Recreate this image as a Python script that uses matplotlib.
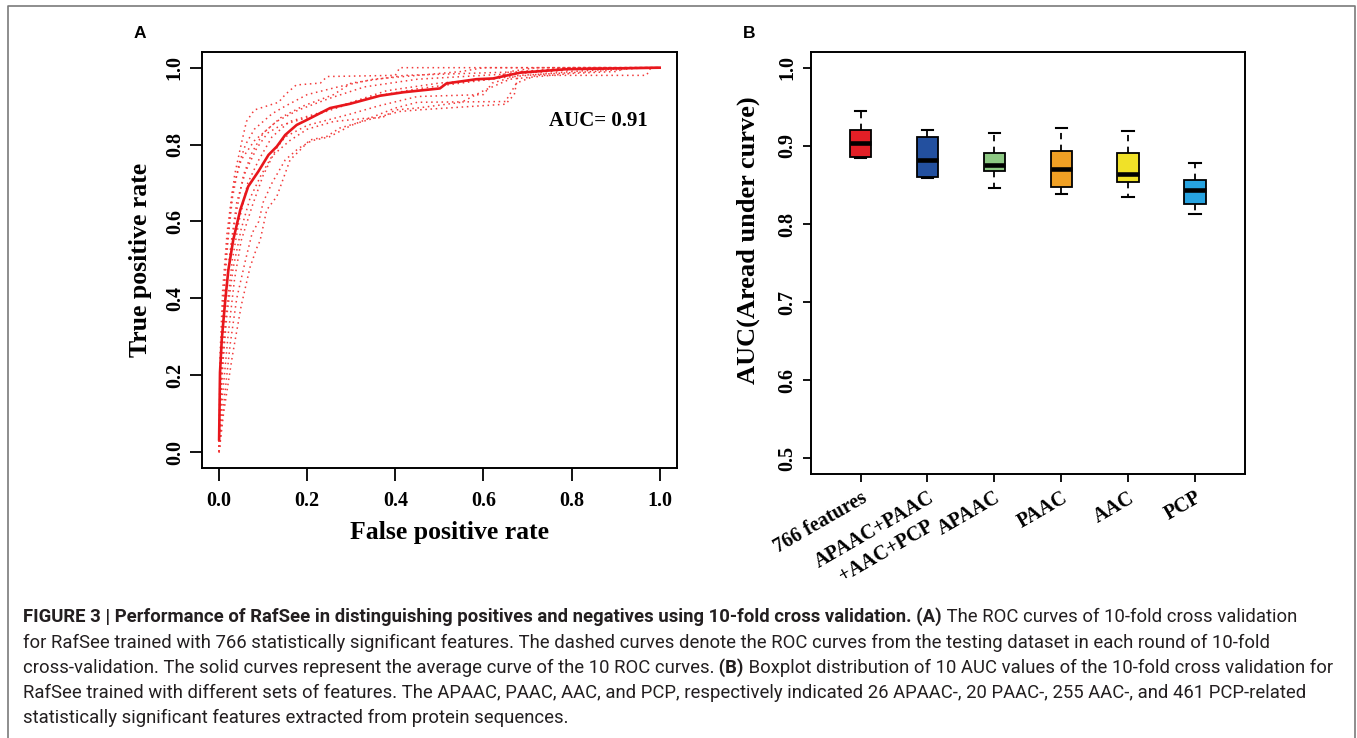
import matplotlib
matplotlib.use('Agg')
import matplotlib.pyplot as plt
from matplotlib.lines import Line2D
from matplotlib import font_manager

W, H = 1357, 738

# ---------------- data: panel A (ROC) ----------------
mean_fpr = [0.0, 0.002, 0.006, 0.014, 0.021, 0.032, 0.048, 0.066, 0.089, 0.112, 0.131,
            0.150, 0.176, 0.199, 0.252, 0.297, 0.365, 0.418, 0.501, 0.516, 0.584,
            0.622, 0.683, 0.788, 1.0]
mean_tpr = [0.033, 0.207, 0.293, 0.396, 0.474, 0.552, 0.630, 0.691, 0.730, 0.773, 0.795,
            0.825, 0.851, 0.864, 0.895, 0.906, 0.927, 0.936, 0.946, 0.959, 0.970,
            0.972, 0.987, 0.996, 1.0]

fold_fpr = [
    [0, 0.002, 0.008, 0.015, 0.025, 0.035, 0.05, 0.062, 0.08, 0.135, 0.15, 0.175, 0.23, 0.245, 0.40, 0.41, 1.0],
    [0, 0.003, 0.01, 0.02, 0.03, 0.045, 0.06, 0.08, 0.12, 0.15, 0.2, 0.27, 0.35, 0.55, 0.6, 1.0],
    [0, 0.004, 0.012, 0.025, 0.04, 0.055, 0.075, 0.1, 0.14, 0.19, 0.26, 0.3, 0.42, 0.7, 0.8, 1.0],
    [0, 0.002, 0.008, 0.018, 0.03, 0.05, 0.08, 0.13, 0.18, 0.25, 0.33, 0.45, 0.6, 0.75, 0.85, 1.0],
    [0, 0.006, 0.015, 0.03, 0.045, 0.065, 0.09, 0.12, 0.16, 0.22, 0.3, 0.38, 0.5, 0.62, 0.66, 0.72, 1.0],
    [0, 0.005, 0.014, 0.028, 0.04, 0.06, 0.085, 0.11, 0.14, 0.2, 0.28, 0.35, 0.45, 0.55, 0.65, 0.8, 0.95, 1.0],
    [0, 0.008, 0.02, 0.035, 0.05, 0.075, 0.1, 0.13, 0.15, 0.2, 0.3, 0.36, 0.45, 0.6, 0.62, 0.68, 0.85, 0.97, 1.0],
    [0, 0.01, 0.025, 0.04, 0.06, 0.075, 0.09, 0.1, 0.12, 0.15, 0.18, 0.21, 0.25, 0.3, 0.4, 0.45, 0.65, 0.675, 0.72, 0.97, 0.98, 1.0],
    [0, 0.006, 0.018, 0.032, 0.05, 0.07, 0.095, 0.12, 0.16, 0.2, 0.26, 0.33, 0.37, 0.4, 0.45, 0.55, 0.6, 0.66, 0.8, 0.9, 0.93, 1.0],
    [0, 0.01, 0.03, 0.05, 0.07, 0.085, 0.093, 0.108, 0.131, 0.161, 0.184, 0.206, 0.244, 0.274, 0.35, 0.41, 0.45, 0.65, 0.67, 0.68, 0.75, 0.8, 1.0],
]
fold_tpr = [
    [0, 0.15, 0.35, 0.5, 0.62, 0.72, 0.8, 0.86, 0.89, 0.91, 0.93, 0.955, 0.96, 0.977, 0.98, 1.0, 1.0],
    [0, 0.2, 0.4, 0.55, 0.66, 0.75, 0.8, 0.84, 0.88, 0.9, 0.93, 0.95, 0.97, 0.99, 1.0, 1.0],
    [0, 0.2, 0.38, 0.52, 0.63, 0.72, 0.78, 0.83, 0.87, 0.9, 0.93, 0.96, 0.98, 0.99, 1.0, 1.0],
    [0, 0.25, 0.42, 0.57, 0.68, 0.76, 0.81, 0.86, 0.89, 0.92, 0.95, 0.97, 0.98, 0.99, 1.0, 1.0],
    [0, 0.18, 0.35, 0.5, 0.6, 0.7, 0.76, 0.82, 0.86, 0.88, 0.91, 0.94, 0.96, 0.97, 0.99, 1.0, 1.0],
    [0, 0.22, 0.4, 0.55, 0.65, 0.73, 0.79, 0.83, 0.85, 0.87, 0.9, 0.925, 0.945, 0.96, 0.975, 0.99, 1.0, 1.0],
    [0, 0.15, 0.3, 0.45, 0.55, 0.64, 0.72, 0.79, 0.82, 0.85, 0.88, 0.9, 0.925, 0.93, 0.96, 0.98, 0.99, 1.0, 1.0],
    [0, 0.12, 0.28, 0.4, 0.5, 0.57, 0.6, 0.65, 0.7, 0.76, 0.79, 0.81, 0.82, 0.85, 0.895, 0.91, 0.912, 0.96, 0.98, 0.98, 1.0, 1.0],
    [0, 0.2, 0.36, 0.48, 0.58, 0.66, 0.72, 0.77, 0.81, 0.84, 0.86, 0.868, 0.87, 0.89, 0.895, 0.91, 0.94, 0.97, 0.985, 0.99, 1.0, 1.0],
    [0, 0.1, 0.25, 0.38, 0.48, 0.53, 0.55, 0.63, 0.665, 0.76, 0.786, 0.812, 0.821, 0.843, 0.868, 0.886, 0.89, 0.905, 0.93, 0.99, 0.995, 1.0, 1.0],
]
auc_text = 'AUC= 0.91'

# ---------------- data: panel B (boxplot) ----------------
feature_sets = ['766 features', 'APAAC+PAAC\n+AAC+PCP', 'APAAC', 'PAAC', 'AAC', 'PCP']
auc_whislo = [0.885, 0.859, 0.846, 0.839, 0.8345, 0.813]
auc_q1 = [0.8864, 0.8596, 0.8677, 0.8477, 0.8536, 0.826]
auc_med = [0.9043, 0.8826, 0.8753, 0.871, 0.8638, 0.8438]
auc_q3 = [0.9204, 0.911, 0.891, 0.893, 0.8907, 0.8558]
auc_whishi = [0.9443, 0.920, 0.9162, 0.923, 0.9196, 0.8779]
box_colors = ['#E31F26', '#23509F', '#8DC883', '#F0A024', '#F0E128', '#27A3E0']

caption_lines = [
    [("FIGURE 3 | Performance of RafSee in distinguishing positives and negatives using 10-fold cross validation. (A)", True),
     (" The ROC curves of 10-fold cross validation", False)],
    [("for RafSee trained with 766 statistically significant features. The dashed curves denote the ROC curves from the testing dataset in each round of 10-fold", False)],
    [("cross-validation. The solid curves represent the average curve of the 10 ROC curves.", False),
     (" (B)", True),
     (" Boxplot distribution of 10 AUC values of the 10-fold cross validation for", False)],
    [("RafSee trained with different sets of features. The APAAC, PAAC, AAC, and PCP, respectively indicated 26 APAAC-, 20 PAAC-, 255 AAC-, and 461 PCP-related", False)],
    [("statistically significant features extracted from protein sequences.", False)],
]
caption_y = [617, 643, 668, 693, 718]
caption_target_w = [1317, None, 1310, 1312, None]

# ---------------- styling ----------------
SERIF = 'Liberation Serif'
serif_bold = dict(family=SERIF, weight='bold')

fig = plt.figure(figsize=(W / 100, H / 100), dpi=100)

def px2fig(x, y):
    return x / W, 1 - y / H

# ---- Panel A ----
ax1 = fig.add_axes([201.5 / W, 1 - 467.5 / H, (677.3 - 201.5) / W, (467.5 - 52.3) / H])
for f, t in zip(fold_fpr, fold_tpr):
    ax1.plot(f, t, color='#F23A3A', lw=1.1, linestyle=(0, (1, 2.4)))
ax1.plot(mean_fpr, mean_tpr, color='#E8161C', lw=1.9, solid_joinstyle='round')
ax1.set_xlim(-0.04, 1.04)
ax1.set_ylim(-0.04, 1.04)
ticks = [0.0, 0.2, 0.4, 0.6, 0.8, 1.0]
ax1.set_xticks(ticks)
ax1.set_yticks(ticks)
ax1.set_xticklabels([f'{v:.1f}' for v in ticks], fontdict=dict(serif_bold, size=14.5))
ax1.set_yticklabels([f'{v:.1f}' for v in ticks], fontdict=dict(serif_bold, size=14.5),
                    rotation=90, va='center')
ax1.tick_params(direction='out', length=9, width=1.3)
ax1.tick_params(axis='x', pad=8)
ax1.tick_params(axis='y', pad=3)
for s in ax1.spines.values():
    s.set_linewidth(1.4)
ax1.text(0.748, 0.862, auc_text, fontdict=dict(serif_bold, size=15), ha='left', va='center')

x, y = px2fig(450, 533)
fig.text(x, y, 'False positive rate', ha='center', va='center', fontdict=dict(serif_bold, size=18.5))
x, y = px2fig(140, 260)
fig.text(x, y, 'True positive rate', ha='center', va='center', rotation=90, fontdict=dict(serif_bold, size=18.5))
x, y = px2fig(140, 33)
fig.text(x, y, 'A', ha='center', va='center', family='Liberation Sans', weight='bold', size=12.5)
x, y = px2fig(749, 33)
fig.text(x, y, 'B', ha='center', va='center', family='Liberation Sans', weight='bold', size=12.5)

# ---- Panel B ----
ax2 = fig.add_axes([811 / W, 1 - 474 / H, (1244.6 - 811) / W, (474 - 52.2) / H])
stats = []
for i in range(len(feature_sets)):
    stats.append(dict(med=auc_med[i], q1=auc_q1[i], q3=auc_q3[i],
                      whislo=auc_whislo[i], whishi=auc_whishi[i], fliers=[], label=feature_sets[i]))
positions = list(range(1, len(feature_sets) + 1))
bp = ax2.bxp(stats, positions=positions, widths=0.32, patch_artist=True, showfliers=False,
             capwidths=0.17,
             boxprops=dict(linewidth=1.3, edgecolor='black'),
             medianprops=dict(color='black', linewidth=3.3, solid_capstyle='butt'),
             whiskerprops=dict(color='black', linewidth=1.3, linestyle=(0, (3.5, 3))),
             capprops=dict(color='black', linewidth=1.5))
for patch, c in zip(bp['boxes'], box_colors):
    patch.set_facecolor(c)
ax2.set_xlim(0.26, 6.74)
ax2.set_ylim(0.48, 1.02)
yt = [0.5, 0.6, 0.7, 0.8, 0.9, 1.0]
ax2.set_yticks(yt)
ax2.set_yticklabels([f'{v:.1f}' for v in yt], fontdict=dict(serif_bold, size=14.5), rotation=90, va='center')
ax2.set_xticks(positions)
ax2.set_xticklabels(feature_sets, fontdict=dict(serif_bold, size=14.5), rotation=30,
                    ha='right', va='top', rotation_mode='anchor', linespacing=1.3,
                    multialignment='center')
ax2.tick_params(direction='out', length=6, width=1.3, pad=4)
ax2.tick_params(axis='x', pad=4)
for s in ax2.spines.values():
    s.set_linewidth(1.4)
x, y = px2fig(748, 240)
fig.text(x, y, 'AUC(Aread under curve)', ha='center', va='center', rotation=90,
         fontdict=dict(serif_bold, size=19))

# ---- frame ----
fx = [7.5, 7.5, 1355, 1355]
fy = [740, 6, 6, 740]
fig.add_artist(Line2D([v / W for v in fx], [1 - v / H for v in fy], color='#7a7a7a', lw=1.2))

# ---- caption ----
names = {f.name for f in font_manager.fontManager.ttflist}
cap_font = 'Liberation Sans Narrow' if 'Liberation Sans Narrow' in names else 'Roboto'
renderer = fig.canvas.get_renderer()

def measure_line(line, size):
    total = 0.0
    for txt, bold in line:
        p = fig.text(0, 0, txt, family=cap_font, size=size, weight='bold' if bold else 'normal')
        total += p.get_window_extent(renderer).width
        p.remove()
    return total

cap_size = min(10 * tw / measure_line(ln, 10)
               for ln, tw in zip(caption_lines, caption_target_w) if tw)

for line, yy in zip(caption_lines, caption_y):
    xcur = 23
    for txt, bold in line:
        t = fig.text(xcur / W, 1 - yy / H, txt, family=cap_font, size=cap_size,
                     weight='bold' if bold else 'normal', ha='left', va='center', color='#231f20')
        xcur = t.get_window_extent(renderer).x1

fig.savefig('out.png', dpi=100)
